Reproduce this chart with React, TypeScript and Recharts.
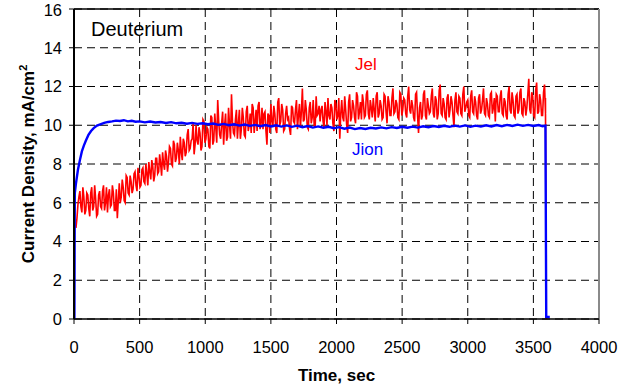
import React from "react";
import { LineChart, Line, XAxis, YAxis, CartesianGrid, ReferenceLine } from "recharts";

// X axis / Y axis ticks
const X_TICKS = [0, 500, 1000, 1500, 2000, 2500, 3000, 3500, 4000];
const Y_TICKS = [0, 2, 4, 6, 8, 10, 12, 14, 16];

// Jion (blue): [time sec, current density mA/cm2]
const JION: [number, number][] = [
  [0, 0], [3, 0], [6, 6.5], [15, 7.0], [30, 7.7], [45, 8.2], [60, 8.65], [75, 8.95], [90, 9.2],
  [110, 9.5], [130, 9.7], [150, 9.85], [175, 9.98], [200, 10.05], [230, 10.12], [260, 10.17],
  [290, 10.2], [320, 10.24], [350, 10.22], [380, 10.26], [410, 10.2], [440, 10.23], [470, 10.18],
  [500, 10.2], [540, 10.15], [580, 10.19], [620, 10.14], [660, 10.17], [700, 10.12], [740, 10.16],
  [780, 10.1], [820, 10.13], [860, 10.08], [900, 10.12], [940, 10.07], [980, 10.1], [1020, 10.05],
  [1060, 10.09], [1100, 10.02], [1140, 10.07], [1180, 10.0], [1220, 10.05], [1260, 9.98],
  [1300, 10.04], [1340, 9.97], [1380, 10.02], [1420, 9.95], [1460, 10.01], [1500, 9.94],
  [1540, 10.0], [1580, 9.93], [1620, 9.99], [1660, 9.92], [1700, 9.98], [1740, 9.9], [1780, 9.96],
  [1820, 9.88], [1860, 9.94], [1900, 9.87], [1940, 9.92], [1980, 9.85], [2020, 9.9], [2060, 9.82],
  [2100, 9.88], [2140, 9.8], [2180, 9.86], [2220, 9.81], [2260, 9.87], [2300, 9.83], [2340, 9.89],
  [2380, 9.84], [2420, 9.9], [2460, 9.86], [2500, 9.92], [2540, 9.87], [2580, 9.93], [2620, 9.88],
  [2660, 9.95], [2700, 9.9], [2740, 9.96], [2780, 9.91], [2820, 9.97], [2860, 9.92], [2900, 9.98],
  [2940, 9.93], [2980, 9.99], [3020, 9.92], [3060, 9.98], [3100, 9.93], [3140, 10.0], [3180, 9.94],
  [3220, 10.01], [3260, 9.95], [3300, 10.02], [3340, 9.96], [3380, 10.03], [3420, 9.97],
  [3460, 10.02], [3500, 9.96], [3540, 10.01], [3570, 9.95], [3592, 9.98], [3598, 0.1], [3625, 0.1],
];

// Jel (red): sampled every 7.5 s starting at 15 s; A = on-step readings, B = half-step readings
const JEL_START = 15;
const JEL_STEP = 15;
const JEL_A = [
  4.7, 5.9, 6.6, 5.5, 6.3, 5.6,
  6.4, 5.3, 6.8, 5.8, 6.2, 5.4, 6.6,
  5.7, 6.9, 6.0, 5.5, 6.7, 5.9, 6.5,
  5.6, 5.2, 7.0, 6.3, 6.8, 6.0, 7.3,
  6.4, 7.1, 6.7, 7.6, 6.6, 7.4, 6.9,
  7.8, 7.0, 7.5, 8.1, 7.2, 7.9, 7.4,
  8.3, 7.6, 8.0, 8.6, 7.7, 8.4, 8.1,
  8.8, 7.9, 9.0, 8.3, 8.7, 9.4, 8.2,
  9.1, 8.6, 9.8, 8.8, 9.3, 8.5, 10.0,
  9.0, 9.6, 8.9, 10.2, 9.3, 9.8, 8.8,
  10.4, 9.2, 9.9, 11.3, 9.5, 10.1, 9.0,
  10.6, 9.4, 10.0, 11.6, 9.6, 10.3, 9.3,
  10.8, 9.8, 10.4, 9.4, 11.0, 10.0, 9.6,
  10.9, 10.2, 9.7, 11.2, 10.1, 9.8, 10.7,
  9.0, 10.5, 11.1, 9.9, 10.6, 9.6, 11.4,
  10.2, 10.8, 9.8, 11.0, 10.4, 9.5, 10.9,
  10.1, 11.3, 10.5, 9.9, 11.9, 10.3, 10.8,
  9.8, 11.2, 10.4, 10.0, 11.5, 10.6, 10.2,
  11.0, 9.9, 10.7, 11.4, 10.3, 10.9, 9.7,
  11.1, 10.5, 9.3, 11.3, 10.2, 10.8, 9.6,
  11.6, 10.4, 11.0, 10.1, 11.5, 10.7, 10.3,
  11.2, 10.5, 11.8, 10.3, 10.9, 11.4, 10.2,
  11.7, 10.6, 11.0, 10.4, 11.5, 10.1, 11.2,
  10.5, 11.9, 10.7, 11.1, 10.3, 11.6, 10.8,
  11.3, 10.4, 12.0, 10.6, 11.0, 10.2, 11.7,
  9.6, 11.2, 10.5, 11.8, 10.3, 11.0, 10.7,
  11.9, 10.4, 11.3, 10.6, 12.1, 10.5, 11.1,
  10.3, 11.6, 10.8, 11.2, 9.9, 11.7, 10.6,
  11.4, 10.5, 12.0, 10.9, 11.3, 10.4, 11.8,
  10.6, 11.2, 10.3, 11.6, 10.8, 11.9, 10.5,
  11.1, 10.4, 11.7, 10.9, 10.2, 11.5, 10.7,
  11.8, 10.5, 11.2, 10.3, 12.0, 10.6, 11.3,
  10.4, 11.6, 10.8, 11.9, 10.5, 11.2, 10.9,
  12.4, 10.6, 11.5, 10.4, 12.2, 10.7, 11.3,
  10.5, 12.1,
];
const JEL_B = [
  5.2, 6.3, 5.8, 6.8, 5.4, 6.5,
  5.7, 6.5, 5.6, 6.9, 5.3, 6.4, 5.8,
  6.6, 5.6, 6.8, 6.4, 5.8, 6.9, 5.6,
  6.7, 6.1, 6.0, 7.2, 6.1, 7.4, 6.5,
  7.4, 6.5, 7.5, 6.9, 7.8, 6.8, 7.7,
  7.1, 8.0, 6.9, 7.6, 8.2, 7.1, 8.3,
  7.5, 8.5, 7.4, 8.0, 8.7, 7.6, 8.9,
  8.0, 9.2, 8.1, 9.1, 8.0, 8.6, 9.3,
  8.4, 9.5, 8.7, 9.2, 10.1, 9.0, 9.2,
  9.9, 8.7, 10.3, 9.1, 9.9, 8.9, 10.5,
  9.0, 10.6, 9.1, 10.2, 9.3, 10.7, 10.0,
  9.2, 10.9, 9.3, 10.2, 9.5, 10.8, 10.1,
  9.3, 10.9, 9.5, 10.7, 9.7, 10.6, 11.1,
  9.6, 10.8, 11.0, 9.8, 10.9, 10.6, 9.7,
  10.6, 9.6, 10.2, 11.0, 9.8, 11.2, 10.0,
  11.1, 9.7, 10.6, 10.3, 9.8, 11.0, 10.2,
  10.8, 9.8, 11.1, 10.7, 10.2, 11.3, 9.9,
  10.9, 10.1, 11.3, 9.9, 10.5, 11.0, 10.8,
  10.2, 11.2, 10.0, 10.5, 11.1, 10.1, 11.3,
  10.3, 11.4, 10.6, 10.4, 11.5, 10.0, 11.2,
  10.2, 11.3, 10.4, 11.7, 10.3, 11.2, 11.6,
  10.4, 11.6, 10.6, 11.3, 10.4, 10.8, 11.5,
  10.4, 11.3, 10.3, 11.6, 10.7, 11.5, 10.5,
  11.4, 10.6, 11.3, 10.4, 11.7, 10.5, 11.4,
  10.6, 11.5, 10.8, 11.3, 10.4, 11.6, 10.5,
  10.9, 10.3, 11.6, 10.5, 11.4, 10.6, 11.5,
  10.6, 11.5, 10.3, 11.8, 10.6, 11.4, 10.4,
  11.4, 10.4, 11.5, 10.5, 11.3, 10.7, 11.5,
  10.6, 11.6, 10.7, 11.2, 10.5, 11.5, 10.7,
  11.5, 10.5, 11.4, 10.6, 11.3, 10.6, 11.4,
  10.5, 11.6, 10.6, 11.4, 11.6, 10.7, 11.5,
  10.6, 11.4, 10.5, 11.6, 10.8, 11.7, 10.5,
  11.5, 10.6, 11.7, 10.6, 11.4, 10.5, 11.6,
  10.8, 11.7, 10.5, 11.8, 10.6, 11.6, 10.5,
  11.7, 10.6,
];
// Jel tail: final point and drop to zero
const JEL_TAIL: [number, number][] = [[3592, 11.4], [3598, 0]];

const jionData = JION.map(([t, v]) => ({ t, v }));
const jelData: { t: number; v: number }[] = [];
JEL_A.forEach((v, i) => {
  const t = JEL_START + i * JEL_STEP;
  jelData.push({ t, v });
  if (JEL_B[i] !== undefined) jelData.push({ t: t + JEL_STEP / 2, v: JEL_B[i] });
});
JEL_TAIL.forEach(([t, v]) => jelData.push({ t, v }));

const FONT = '"Liberation Sans", Arial, sans-serif';
const W = 633;
const H = 387;
const Y_AXIS_W = 60;
const X_AXIS_H = 40;

export default function App() {
  return (
    <div style={{ position: "absolute", left: 0, top: 0, width: W, height: H, background: "#fff" }}>
      <LineChart
        width={W}
        height={H}
        margin={{ top: 9, right: 34, bottom: 68 - X_AXIS_H, left: 74 - Y_AXIS_W }}
        style={{ fontFamily: FONT }}
      >
        <CartesianGrid stroke="#000" strokeDasharray="8 5" strokeWidth={1} />
        <ReferenceLine y={16} stroke="#000" strokeWidth={1.5} />
        <ReferenceLine x={4000} stroke="#8a8a8a" strokeWidth={2} />
        <XAxis
          type="number"
          dataKey="t"
          domain={[0, 4000]}
          ticks={X_TICKS}
          allowDataOverflow
          height={X_AXIS_H}
          stroke="#000"
          tickSize={5}
          tickMargin={17}
          tick={{ fill: "#000", fontSize: 16.5, fontFamily: FONT }}
          axisLine={{ stroke: "#000", strokeWidth: 1.3 }}
          tickLine={{ stroke: "#000" }}
        />
        <YAxis
          type="number"
          domain={[0, 16]}
          ticks={Y_TICKS}
          allowDataOverflow
          width={Y_AXIS_W}
          tickSize={5}
          tickMargin={7}
          tick={{ fill: "#000", fontSize: 16.5, fontFamily: FONT }}
          axisLine={{ stroke: "#000", strokeWidth: 2 }}
          tickLine={{ stroke: "#000" }}
        />
        <Line
          data={jelData}
          dataKey="v"
          type="linear"
          stroke="#ff0000"
          strokeWidth={1.6}
          dot={false}
          isAnimationActive={false}
        />
        <Line
          data={jionData}
          dataKey="v"
          type="linear"
          stroke="#0000ff"
          strokeWidth={2.4}
          dot={false}
          isAnimationActive={false}
        />
        <g style={{ fontFamily: FONT }}>
          <text x={91} y={36} fontSize={20} fill="#000">Deuterium</text>
          <text x={355} y={70} fontSize={17} fill="#ff0000">Jel</text>
          <text x={352} y={155} fontSize={17} fill="#0000ff">Jion</text>
          <text x={336.5} y={381} fontSize={17} fontWeight="bold" fill="#000" textAnchor="middle">
            Time, sec
          </text>
          <text
            x={33.5}
            y={164}
            fontSize={17}
            fontWeight="bold"
            fill="#000"
            textAnchor="middle"
            transform="rotate(-90, 33.5, 164)"
          >
            Current Density, mA/cm<tspan fontSize={11} dy={-7}>2</tspan>
          </text>
        </g>
      </LineChart>
    </div>
  );
}
